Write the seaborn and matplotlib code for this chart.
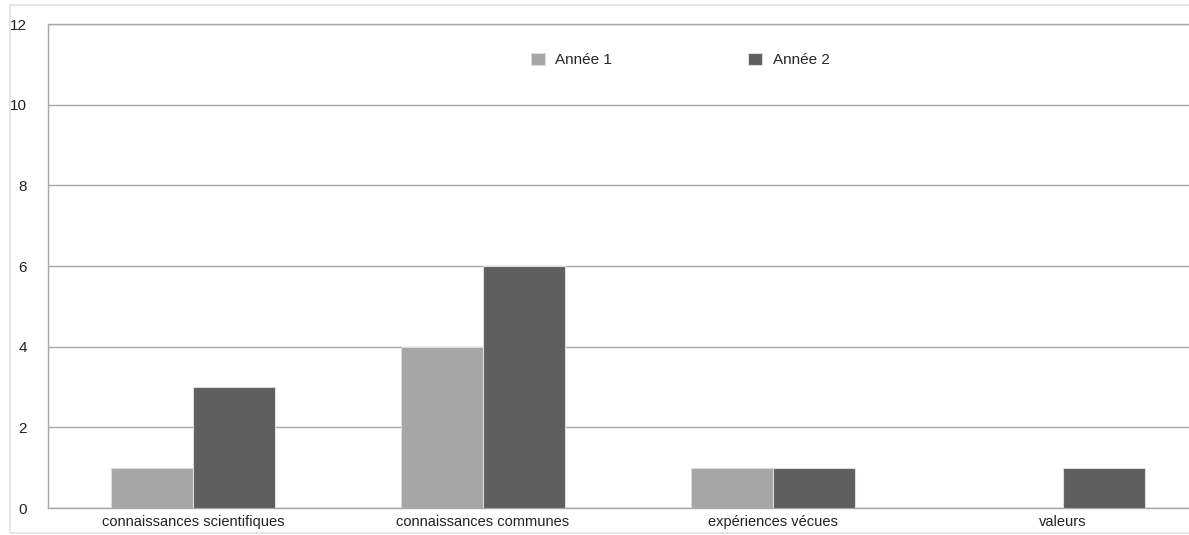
import pandas as pd
import seaborn as sns
import matplotlib.pyplot as plt
from matplotlib.patches import Rectangle

categories = ["connaissances scientifiques", "connaissances communes", "expériences vécues", "valeurs"]
annee1 = [1, 4, 1, 0]
annee2 = [3, 6, 1, 1]
series = ["Année 1", "Année 2"]

df = pd.DataFrame({
    "categorie": categories * 2,
    "valeur": annee1 + annee2,
    "annee": [series[0]] * len(categories) + [series[1]] * len(categories),
})

sns.set_style("white")
plt.rcParams["font.family"] = ["Liberation Sans", "DejaVu Sans"]

fig = plt.figure(figsize=(11.89, 5.35), dpi=100)
ax = fig.add_axes([48 / 1189, 1 - 508 / 535, 1160 / 1189, 484 / 535])

sns.barplot(data=df, x="categorie", y="valeur", hue="annee", order=categories,
            hue_order=series, palette=["#a6a6a6", "#5f5f5f"], width=0.565,
            edgecolor="#dcdcdc", linewidth=0.8, ax=ax, zorder=3)

ax.set_ylim(0, 12)
ax.set_xlim(-0.5, 3.5)
ax.set_yticks(range(0, 13, 2))
ax.yaxis.grid(True, color="#a8a8a8", linewidth=1, zorder=0)
ax.set_axisbelow(True)
ax.set_xlabel("")
ax.set_ylabel("")

ax.set_xticks([0.5, 1.5, 2.5], minor=True)
ax.tick_params(axis="x", which="major", length=0, labelsize=10.5, pad=5, labelcolor="#222222")
ax.tick_params(axis="x", which="minor", length=3, color="#a8a8a8", direction="out")
ax.tick_params(axis="y", length=4, color="#a8a8a8", labelsize=11, pad=11, labelcolor="#222222")

for side in ["left", "bottom", "top"]:
    ax.spines[side].set_color("#a8a8a8")
    ax.spines[side].set_linewidth(1)
ax.spines["right"].set_visible(False)

ax.legend(loc="center", bbox_to_anchor=(0.545, 0.926), ncol=2, frameon=False,
          fontsize=11, handlelength=0.9, handleheight=0.9, handletextpad=0.7,
          columnspacing=8.9)

fig.patches.append(Rectangle((10 / 1189, 2 / 535), 1.2, 528 / 535, transform=fig.transFigure,
                             fill=False, edgecolor="#e0e0e0", linewidth=1.2, zorder=0))

fig.savefig("out.png", dpi=100)
